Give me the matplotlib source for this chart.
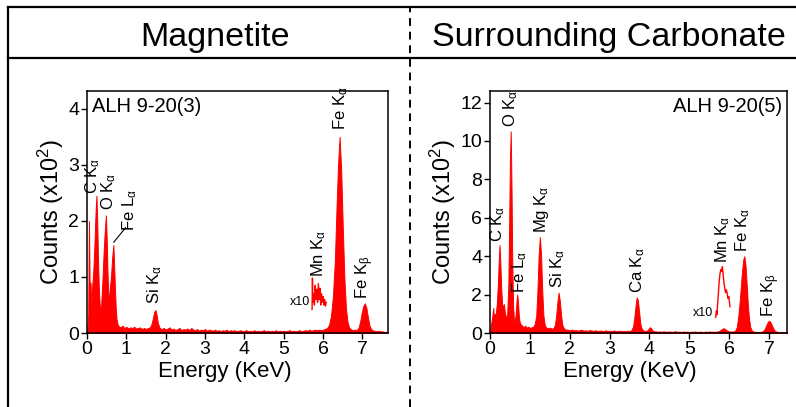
import matplotlib
matplotlib.use("Agg")
import matplotlib.pyplot as plt
from matplotlib.lines import Line2D

plt.rcParams['font.family'] = ['Liberation Sans', 'DejaVu Sans']
plt.rcParams['mathtext.fontset'] = 'custom'
plt.rcParams['mathtext.rm'] = 'Liberation Sans'
plt.rcParams['mathtext.it'] = 'Liberation Sans:italic'

# EDX spectrum of the magnetite grain, (energy keV, counts x10^2)
magnetite = [
    (0.00, 0.0), (0.03, 0.3), (0.05, 2.0), (0.07, 0.6), (0.09, 0.9), (0.11, 0.5),
    (0.13, 0.8), (0.16, 1.1), (0.19, 1.6), (0.22, 2.2), (0.24, 2.45), (0.26, 2.0),
    (0.28, 1.3), (0.30, 0.8), (0.33, 0.4), (0.36, 0.5), (0.39, 0.9), (0.42, 1.4),
    (0.45, 1.8), (0.48, 2.1), (0.50, 1.7), (0.52, 1.1), (0.54, 0.7), (0.56, 0.6),
    (0.58, 0.8), (0.61, 1.0), (0.64, 1.35), (0.67, 1.57), (0.69, 1.2), (0.71, 0.8),
    (0.73, 0.45), (0.75, 0.25), (0.78, 0.15), (0.81, 0.12), (0.85, 0.10), (0.90, 0.13),
    (0.95, 0.09), (1.00, 0.11), (1.05, 0.08), (1.10, 0.10), (1.15, 0.09), (1.20, 0.11),
    (1.25, 0.08), (1.30, 0.09), (1.35, 0.10), (1.40, 0.07), (1.45, 0.09), (1.50, 0.07),
    (1.55, 0.09), (1.60, 0.10), (1.64, 0.16), (1.68, 0.28), (1.71, 0.38), (1.74, 0.41),
    (1.77, 0.32), (1.80, 0.18), (1.84, 0.10), (1.87, 0.08),
    (1.90, 0.07), (1.95, 0.09), (2.00, 0.06), (2.05, 0.08), (2.10, 0.10), (2.15, 0.06),
    (2.20, 0.08), (2.25, 0.05), (2.30, 0.07), (2.35, 0.09), (2.40, 0.05), (2.45, 0.07),
    (2.50, 0.06), (2.55, 0.08), (2.60, 0.05), (2.65, 0.09), (2.70, 0.06), (2.75, 0.05),
    (2.80, 0.07), (2.85, 0.04), (2.90, 0.06), (2.95, 0.05), (3.00, 0.07), (3.05, 0.04),
    (3.10, 0.06), (3.15, 0.05), (3.20, 0.04), (3.25, 0.06), (3.30, 0.04), (3.35, 0.05),
    (3.40, 0.03), (3.45, 0.05), (3.50, 0.04), (3.55, 0.06), (3.60, 0.03), (3.65, 0.05),
    (3.70, 0.04), (3.75, 0.05), (3.80, 0.03), (3.85, 0.04), (3.90, 0.05), (3.95, 0.03),
    (4.00, 0.04), (4.05, 0.05), (4.10, 0.03), (4.15, 0.04), (4.20, 0.03), (4.25, 0.05),
    (4.30, 0.03), (4.35, 0.04), (4.40, 0.03), (4.45, 0.04), (4.50, 0.05), (4.55, 0.03),
    (4.60, 0.04), (4.65, 0.03), (4.70, 0.04), (4.75, 0.03), (4.80, 0.05), (4.85, 0.03),
    (4.90, 0.04), (4.95, 0.03), (5.00, 0.04), (5.05, 0.03), (5.10, 0.04), (5.15, 0.05),
    (5.20, 0.03), (5.25, 0.04), (5.30, 0.03), (5.35, 0.04), (5.40, 0.05), (5.45, 0.03),
    (5.50, 0.04), (5.55, 0.05), (5.60, 0.04), (5.65, 0.06), (5.70, 0.04), (5.75, 0.05),
    (5.80, 0.06), (5.85, 0.05), (5.90, 0.06), (5.95, 0.05), (6.00, 0.06), (6.05, 0.07),
    (6.10, 0.09), (6.15, 0.14), (6.20, 0.30), (6.25, 0.65), (6.30, 1.3), (6.34, 2.2),
    (6.38, 3.0), (6.42, 3.5), (6.46, 2.9), (6.50, 1.9), (6.54, 1.0), (6.58, 0.45),
    (6.62, 0.20), (6.66, 0.10), (6.70, 0.07), (6.75, 0.05), (6.80, 0.06), (6.85, 0.05),
    (6.90, 0.09), (6.94, 0.20), (6.98, 0.35), (7.02, 0.48), (7.06, 0.53), (7.10, 0.45),
    (7.14, 0.28), (7.18, 0.13), (7.22, 0.07), (7.26, 0.05), (7.30, 0.04), (7.35, 0.03),
    (7.40, 0.04), (7.45, 0.03), (7.50, 0.03), (7.55, 0.02), (7.60, 0.02),
]

# Mn region shown x10
magnetite_mn_x10 = [
    (5.72, 0.42), (5.73, 0.98), (5.74, 0.55), (5.76, 0.70), (5.78, 0.50), (5.80, 0.85),
    (5.82, 0.60), (5.84, 0.78), (5.86, 0.55), (5.88, 0.88), (5.90, 0.60), (5.92, 0.80),
    (5.94, 0.50), (5.96, 0.70), (5.98, 0.55), (6.00, 0.65), (6.02, 0.50), (6.04, 0.60),
    (6.06, 0.48), (6.08, 0.55),
]

# EDX spectrum of the surrounding carbonate
carbonate = [
    (0.00, 0.0), (0.03, 0.5), (0.06, 0.9), (0.08, 1.3), (0.10, 0.8), (0.12, 1.0),
    (0.14, 0.9), (0.17, 1.5), (0.20, 2.6), (0.22, 3.8), (0.24, 4.58), (0.26, 3.6),
    (0.28, 2.4), (0.30, 1.6), (0.32, 1.3), (0.35, 1.5), (0.37, 1.1), (0.40, 0.8),
    (0.43, 0.9), (0.46, 2.5), (0.48, 5.5), (0.50, 9.0), (0.52, 10.5), (0.54, 7.5),
    (0.56, 3.5), (0.58, 1.4), (0.60, 0.7), (0.62, 0.6), (0.64, 0.9), (0.66, 1.5),
    (0.68, 2.0), (0.70, 1.7), (0.72, 1.0), (0.74, 0.6), (0.77, 0.45), (0.80, 0.40),
    (0.84, 0.30), (0.88, 0.38), (0.92, 0.28), (0.96, 0.33), (1.00, 0.26), (1.04, 0.30),
    (1.08, 0.32), (1.12, 0.45), (1.16, 0.9), (1.19, 2.2), (1.22, 4.0), (1.25, 5.0),
    (1.28, 4.1), (1.31, 2.2), (1.34, 0.9), (1.37, 0.45), (1.40, 0.30), (1.45, 0.25),
    (1.50, 0.28), (1.55, 0.22), (1.60, 0.27), (1.63, 0.45), (1.66, 0.9), (1.69, 1.6),
    (1.72, 2.1), (1.75, 1.7), (1.78, 1.0), (1.81, 0.45), (1.85, 0.25), (1.90, 0.18),
    (1.95, 0.17), (2.00, 0.14), (2.05, 0.18), (2.10, 0.13), (2.15, 0.16), (2.20, 0.12),
    (2.25, 0.15), (2.30, 0.17), (2.35, 0.12), (2.40, 0.14), (2.45, 0.11), (2.50, 0.15),
    (2.55, 0.13), (2.60, 0.12), (2.65, 0.14), (2.70, 0.10), (2.75, 0.13), (2.80, 0.12),
    (2.85, 0.10), (2.90, 0.14), (2.95, 0.11), (3.00, 0.12), (3.05, 0.10), (3.10, 0.13),
    (3.15, 0.11), (3.20, 0.09), (3.25, 0.12), (3.30, 0.10), (3.35, 0.11), (3.40, 0.09),
    (3.45, 0.12), (3.50, 0.10), (3.55, 0.15), (3.59, 0.35), (3.62, 0.8), (3.65, 1.4),
    (3.68, 1.85), (3.71, 1.7), (3.74, 1.1), (3.77, 0.5), (3.80, 0.25), (3.85, 0.12),
    (3.90, 0.10), (3.95, 0.14), (3.98, 0.22), (4.01, 0.30), (4.04, 0.25), (4.08, 0.12),
    (4.12, 0.08), (4.15, 0.09), (4.20, 0.07), (4.25, 0.08), (4.30, 0.06), (4.35, 0.09),
    (4.40, 0.07), (4.45, 0.06), (4.50, 0.08), (4.55, 0.06), (4.60, 0.07), (4.65, 0.09),
    (4.70, 0.06), (4.75, 0.07), (4.80, 0.05), (4.85, 0.08), (4.90, 0.06), (4.95, 0.07),
    (5.00, 0.05), (5.05, 0.07), (5.10, 0.06), (5.15, 0.08), (5.20, 0.05), (5.25, 0.07),
    (5.30, 0.06), (5.35, 0.05), (5.40, 0.07), (5.45, 0.06), (5.50, 0.08), (5.55, 0.06),
    (5.60, 0.07), (5.65, 0.06), (5.70, 0.08), (5.75, 0.10), (5.80, 0.18), (5.85, 0.25),
    (5.90, 0.20), (5.95, 0.12), (6.00, 0.08), (6.05, 0.07), (6.10, 0.08), (6.15, 0.12),
    (6.19, 0.30), (6.23, 0.9), (6.27, 1.8), (6.31, 2.9), (6.35, 3.8), (6.38, 4.0),
    (6.41, 3.5), (6.44, 2.5), (6.47, 1.4), (6.50, 0.7), (6.53, 0.30), (6.57, 0.12),
    (6.62, 0.07), (6.68, 0.06), (6.74, 0.05), (6.80, 0.06), (6.85, 0.10), (6.89, 0.20),
    (6.93, 0.40), (6.97, 0.58), (7.00, 0.64), (7.03, 0.58), (7.07, 0.40), (7.11, 0.22),
    (7.15, 0.10), (7.20, 0.06), (7.25, 0.05), (7.30, 0.04), (7.35, 0.04), (7.40, 0.03),
    (7.45, 0.03),
]

carbonate_mn_x10 = [
    (5.66, 0.82), (5.68, 1.15), (5.69, 0.95), (5.71, 1.5), (5.73, 2.1), (5.75, 2.7),
    (5.77, 3.1), (5.79, 3.3), (5.81, 3.2), (5.83, 3.45), (5.85, 3.0), (5.87, 2.6),
    (5.89, 2.3), (5.91, 2.1), (5.93, 2.25), (5.95, 2.05), (5.97, 1.8), (5.99, 1.9),
    (6.01, 1.55), (6.02, 1.37),
]

# peak labels: (text, energy, bottom of label in counts)
mag_labels = [
    (r'C K$_\mathrm{\alpha}$', 0.14, 2.48),
    (r'O K$_\mathrm{\alpha}$', 0.54, 2.2),
    (r'Fe L$_\mathrm{\alpha}$', 1.09, 1.82),
    (r'Si K$_\mathrm{\alpha}$', 1.73, 0.52),
    (r'Mn K$_\mathrm{\alpha}$', 5.88, 1.0),
    (r'Fe K$_\mathrm{\alpha}$', 6.44, 3.62),
    (r'Fe K$_\mathrm{\beta}$', 7.07, 0.6),
]
carb_labels = [
    (r'C K$_\mathrm{\alpha}$', 0.20, 4.75),
    (r'O K$_\mathrm{\alpha}$', 0.53, 10.7),
    (r'Fe L$_\mathrm{\alpha}$', 0.74, 2.1),
    (r'Mg K$_\mathrm{\alpha}$', 1.28, 5.2),
    (r'Si K$_\mathrm{\alpha}$', 1.70, 2.35),
    (r'Ca K$_\mathrm{\alpha}$', 3.70, 2.1),
    (r'Mn K$_\mathrm{\alpha}$', 5.84, 3.65),
    (r'Fe K$_\mathrm{\alpha}$', 6.34, 4.2),
    (r'Fe K$_\mathrm{\beta}$', 7.04, 0.83),
]

red = '#ff0000'

fig = plt.figure(figsize=(7.96, 4.07), dpi=100)
ax1 = fig.add_axes([87 / 796, 74 / 407, 301 / 796, 242 / 407])
ax2 = fig.add_axes([490 / 796, 74 / 407, 297 / 796, 242 / 407])


def draw_spectrum(ax, spec, mn, labels, xmax, ymax, yticks, tag, tag_x, tag_ha, x10_pos):
    e = [p[0] for p in spec]
    c = [p[1] for p in spec]
    ax.fill_between(e, c, 0, color=red, lw=0.7)
    me = [p[0] for p in mn]
    mc = [p[1] for p in mn]
    ax.plot(me, mc, color=red, lw=1.0)
    ax.text(x10_pos[0], x10_pos[1], 'x10', fontsize=9, ha='right', va='center')
    for txt, x, y in labels:
        ax.text(x, y, txt, rotation=90, fontsize=12, ha='center', va='bottom')
    ax.text(tag_x, 0.935, tag, transform=ax.transAxes, fontsize=14.5,
            ha=tag_ha, va='center')
    ax.set_xlim(0, xmax)
    ax.set_ylim(0, ymax)
    ax.set_xticks(range(8))
    ax.set_yticks(yticks)
    ax.tick_params(labelsize=14, length=4, width=1, pad=1.5, direction='out')
    for s in ax.spines.values():
        s.set_linewidth(1.1)
    ax.set_xlabel('Energy (KeV)', fontsize=16)
    ax.xaxis.set_label_coords(3.5 / xmax, -0.115)
    ax.set_ylabel('Counts (x10$^2$)', fontsize=17, labelpad=2)


draw_spectrum(ax1, magnetite, magnetite_mn_x10, mag_labels, 7.65, 4.32,
              [0, 1, 2, 3, 4], 'ALH 9-20(3)', 0.017, 'left', (5.68, 0.55))
draw_spectrum(ax2, carbonate, carbonate_mn_x10, carb_labels, 7.45, 12.6,
              [0, 2, 4, 6, 8, 10, 12], 'ALH 9-20(5)', 0.983, 'right', (5.6, 1.05))

# leader line for the Fe L label in the magnetite panel
ax1.plot([0.68, 0.98], [1.62, 1.88], color='k', lw=0.8)

# outer frame, title band and dashed divider
fx0 = 8 / 796
fy_top = 1 - 7 / 407
fy_band = 1 - 58 / 407
fig.add_artist(Line2D([fx0, fx0], [0, fy_top], color='k', lw=1.6))
fig.add_artist(Line2D([fx0, 1], [fy_top, fy_top], color='k', lw=1.6))
fig.add_artist(Line2D([fx0, 1], [fy_band, fy_band], color='k', lw=1.6))
fig.add_artist(Line2D([410 / 796, 410 / 796], [0, fy_top], color='k', lw=1.4,
                      ls=(0, (4, 3))))

fig.text(215 / 796, 1 - 46 / 407, 'Magnetite', fontsize=24.5, ha='center', va='baseline')
fig.text(609 / 796, 1 - 46 / 407, 'Surrounding Carbonate', fontsize=24.5,
         ha='center', va='baseline')

fig.savefig('out.png', dpi=100)
